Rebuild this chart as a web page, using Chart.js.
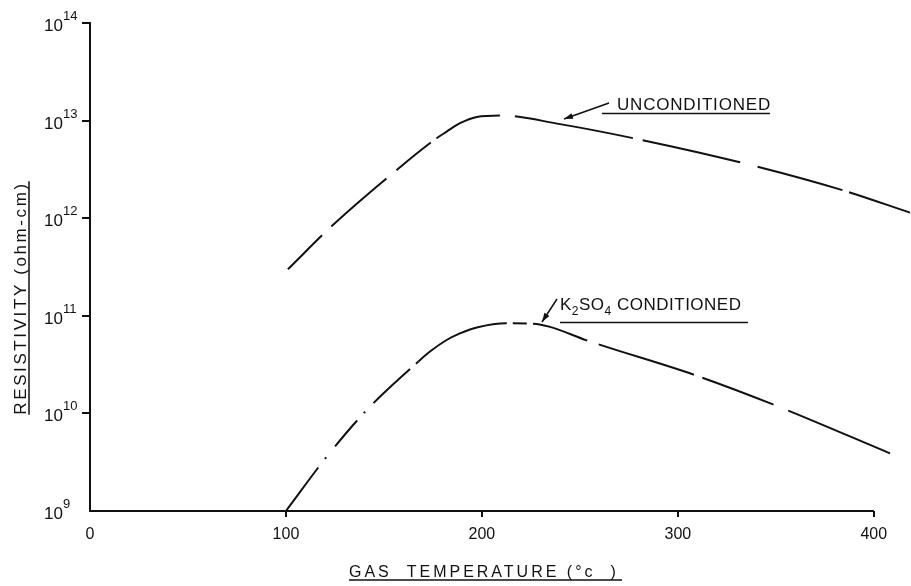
<!DOCTYPE html>
<html>
<head>
<meta charset="utf-8">
<title>Resistivity vs gas temperature</title>
<script src="https://cdn.jsdelivr.net/npm/chart.js@4.4.1/dist/chart.umd.min.js"></script>
<style>
  html, body { margin: 0; padding: 0; background: #fff; }
  canvas { display: block; }
</style>
</head>
<body>
<canvas id="resistivity-chart" width="911" height="586"></canvas>
<script>
// ---------------- Data ----------------
const tempTicks = [0, 100, 200, 300, 400];
const decadeExp = [9, 10, 11, 12, 13, 14];
const decadeTicks = decadeExp.map(e => Math.pow(10, e));

const uncondTemp = [101, 123.4, 151.4, 176.9, 182, 188.8, 197.4, 209.2, 239.9, 277.3, 331.7, 383.6, 418.5];
const uncondRes = [3.0e11, 8.3e11, 2.56e12, 6.6e12, 7.7e12, 9.4e12, 1.09e13, 1.13e13, 9.2e12, 6.6e12, 3.74e12, 1.95e12, 1.14e12];

const k2so4Temp = [100, 120.8, 141.2, 167.6, 173.5, 182, 188.8, 197.4, 212.7, 226.1, 234.8, 253.5, 307.9, 347.9, 408.3];
const k2so4Res = [1.0e9, 3.6e9, 1.08e10, 3.4e10, 4.3e10, 5.65e10, 6.6e10, 7.6e10, 8.4e10, 8.3e10, 7.7e10, 5.6e10, 2.5e10, 1.25e10, 3.9e9];

const ink = '#111';
const fontFamily = '"Liberation Sans", Arial, sans-serif';

// ---------------- Hand drawn dash styles ----------------
function uncondDash(ctx) {
    const x = ctx.p0.parsed.x;
    if (x < 176) return [48, 13, 73, 13, 44, 7];
    if (x < 209) return [];
    return [0, 15, 120, 10, 100, 18, 88, 7, 300];
}

function k2so4Dash(ctx) {
    const x = ctx.p0.parsed.x;
    if (x < 167) return [54, 11, 2, 14, 34, 10, 2, 12, 50, 8];
    if (x < 212) return [];
    if (x < 226) return [0, 6, 14, 6];
    return [57, 12, 100, 9, 76, 16, 300];
}

// ---------------- Labels, titles and arrows ----------------
function arrow(ctx, x1, y1, x2, y2) {
    const a = Math.atan2(y2 - y1, x2 - x1);
    ctx.beginPath();
    ctx.moveTo(x1, y1);
    ctx.lineTo(x2, y2);
    ctx.lineWidth = 1.5;
    ctx.stroke();
    ctx.beginPath();
    ctx.moveTo(x2, y2);
    ctx.lineTo(x2 - 9 * Math.cos(a) + 3 * Math.sin(a), y2 - 9 * Math.sin(a) - 3 * Math.cos(a));
    ctx.lineTo(x2 - 9 * Math.cos(a) - 3 * Math.sin(a), y2 - 9 * Math.sin(a) + 3 * Math.cos(a));
    ctx.closePath();
    ctx.fill();
}

function underline(ctx, x1, x2, y) {
    ctx.beginPath();
    ctx.lineWidth = 1.5;
    ctx.moveTo(x1, y);
    ctx.lineTo(x2, y);
    ctx.stroke();
}

const paperLabels = {
    id: 'paperLabels',
    afterDraw(chart) {
        const ctx = chart.ctx;
        const xs = chart.scales.x;
        const ys = chart.scales.y;
        ctx.save();
        ctx.strokeStyle = ink;
        ctx.fillStyle = ink;

        // x axis line stops at the last tick
        ctx.beginPath();
        ctx.lineWidth = 2;
        ctx.moveTo(xs.getPixelForValue(tempTicks[0]), ys.bottom);
        ctx.lineTo(xs.getPixelForValue(tempTicks[tempTicks.length - 1]), ys.bottom);
        ctx.stroke();

        // y tick labels, 10 with a raised exponent
        ctx.textAlign = 'left';
        ctx.textBaseline = 'alphabetic';
        decadeTicks.forEach((v, i) => {
            const py = ys.getPixelForValue(v);
            ctx.font = '17px ' + fontFamily;
            ctx.fillText('10', 44, py + 8);
            const w = ctx.measureText('10').width;
            ctx.font = '13px ' + fontFamily;
            ctx.fillText(String(decadeExp[i]), 44 + w, py - 3);
        });

        // y axis title
        ctx.save();
        ctx.translate(20, 298);
        ctx.rotate(-Math.PI / 2);
        ctx.font = '17px ' + fontFamily;
        ctx.letterSpacing = '2.6px';
        ctx.textAlign = 'center';
        ctx.fillText('RESISTIVITY (ohm-cm)', 0, 6);
        const yw = ctx.measureText('RESISTIVITY (ohm-cm)').width;
        underline(ctx, -yw / 2, yw / 2, 9);
        ctx.restore();

        // x axis title
        ctx.save();
        ctx.font = '16px ' + fontFamily;
        ctx.letterSpacing = '3px';
        ctx.textAlign = 'left';
        ctx.fillText('GAS  TEMPERATURE (°c  )', 349, 577);
        ctx.restore();
        underline(ctx, 349, 622, 580);

        // UNCONDITIONED
        ctx.save();
        ctx.font = '17px ' + fontFamily;
        ctx.letterSpacing = '0.8px';
        ctx.fillText('UNCONDITIONED', 617, 110);
        ctx.restore();
        underline(ctx, 602, 770, 113.5);
        arrow(ctx, 609, 103, 564, 119);

        // K2SO4 CONDITIONED
        ctx.save();
        let tx = 560;
        const parts = [['K', 0, 17], ['2', 5, 12], ['SO', 0, 17], ['4', 5, 12], [' CONDITIONED', 0, 17]];
        parts.forEach(p => {
            ctx.font = p[2] + 'px ' + fontFamily;
            ctx.letterSpacing = '0.5px';
            ctx.fillText(p[0], tx, 310 + p[1]);
            tx += ctx.measureText(p[0]).width;
        });
        ctx.restore();
        underline(ctx, 560, 748, 322.5);
        arrow(ctx, 557, 299, 542, 322);

        ctx.restore();
    }
};

// ---------------- Chart ----------------
const canvas = document.getElementById('resistivity-chart');
const resistivityChart = new Chart(canvas, {
    type: 'line',
    data: {
        datasets: [{
            label: 'Unconditioned',
            data: uncondTemp.map((t, i) => ({ x: t, y: uncondRes[i] })),
            borderColor: ink,
            borderWidth: 2,
            pointRadius: 0,
            cubicInterpolationMode: 'monotone',
            segment: { borderDash: uncondDash },
            clip: false
        }, {
            label: 'K2SO4 conditioned',
            data: k2so4Temp.map((t, i) => ({ x: t, y: k2so4Res[i] })),
            borderColor: ink,
            borderWidth: 2,
            pointRadius: 0,
            cubicInterpolationMode: 'monotone',
            segment: { borderDash: k2so4Dash },
            clip: false
        }]
    },
    options: {
        responsive: false,
        animation: false,
        layout: { padding: { top: 23, right: 0, bottom: 0, left: 0 } },
        plugins: {
            legend: { display: false },
            tooltip: { enabled: false }
        },
        scales: {
            x: {
                type: 'linear',
                min: 0,
                max: 419,
                afterBuildTicks: scale => { scale.ticks = tempTicks.map(v => ({ value: v })); },
                afterFit: scale => { scale.height = 75; },
                border: { display: false },
                grid: {
                    drawOnChartArea: false,
                    tickLength: 6,
                    lineWidth: 2,
                    color: c => c.index === 0 ? 'rgba(0,0,0,0)' : ink
                },
                ticks: {
                    color: ink,
                    padding: 8,
                    maxRotation: 0,
                    autoSkip: false,
                    font: { family: fontFamily, size: 16 }
                }
            },
            y: {
                type: 'logarithmic',
                min: 1e9,
                max: 1e14,
                afterBuildTicks: scale => { scale.ticks = decadeTicks.map(v => ({ value: v })); },
                afterFit: scale => { scale.width = 90; },
                border: { display: true, color: ink, width: 2 },
                grid: {
                    drawOnChartArea: false,
                    tickLength: 8,
                    lineWidth: 2,
                    color: c => c.index === 0 ? 'rgba(0,0,0,0)' : ink
                },
                ticks: { display: false }
            }
        }
    },
    plugins: [paperLabels]
});
</script>
</body>
</html>
